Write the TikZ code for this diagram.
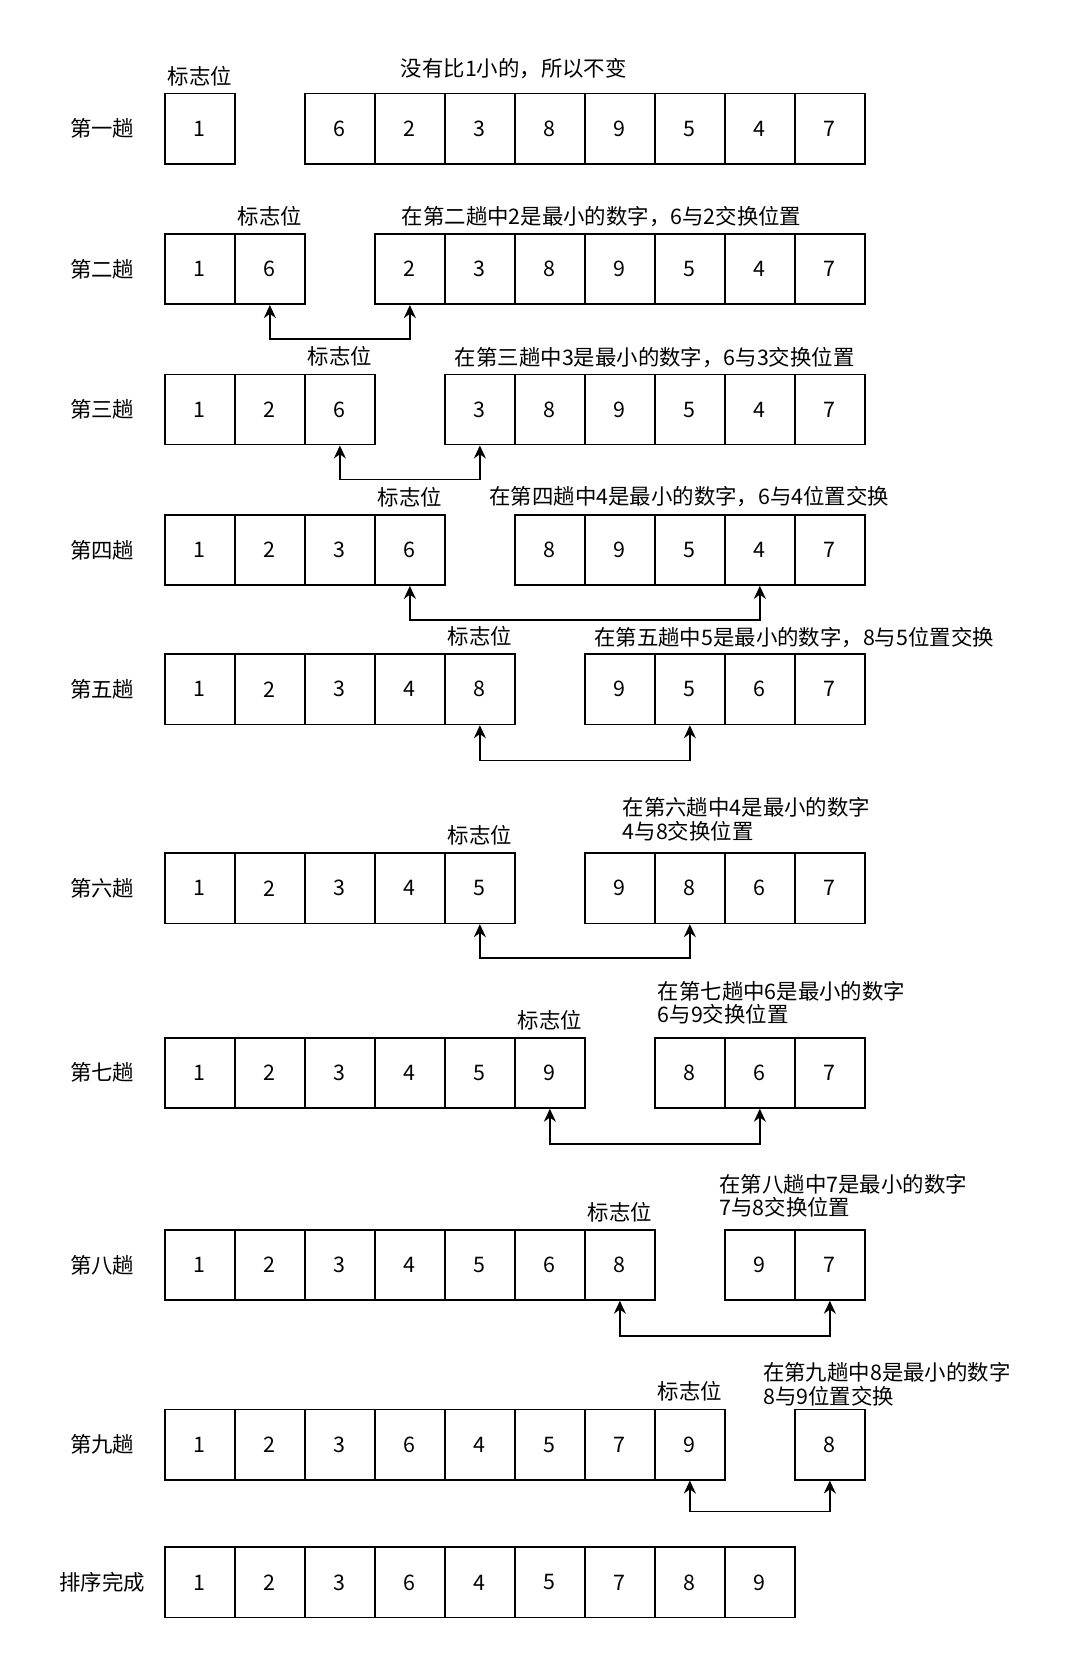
\documentclass[tikz,border=0pt]{standalone}
\usepackage{fontspec}
\setmainfont{Noto Sans CJK SC}
\usetikzlibrary{arrows.meta}

\begin{document}
\begin{tikzpicture}[x=0.5317pt,y=-0.5317pt,
  cell/.style={draw=black,line width=0.8pt,minimum width=35pt,minimum height=35.1pt,inner sep=0pt,font=\fontsize{10.7}{13}\selectfont},
  flag/.style={inner sep=0pt,font=\fontsize{10.7}{13}\selectfont},
  pass/.style={inner sep=0pt,font=\fontsize{10.7}{13}\selectfont},
  note/.style={inner sep=0pt,align=left,font=\fontsize{10.7}{11.8}\selectfont},
  swap/.style={{Stealth[length=6.5pt,width=6pt]}-{Stealth[length=6.5pt,width=6pt]},line width=0.8pt}]
\useasboundingbox (0,0) rectangle (1009,1568);

\node[pass] (p1) at (96,121) {第一趟};
\node[cell] (a1-0) at ({155+65.8*0.5},121) {1};
\foreach \v [count=\c from 2] in {6,2,3,8,9,5,4,7}
  \node[cell] (a1-\c) at ({155+65.8*(\c+0.5)},121) {\v};
\node[flag] (f1) at ([yshift=8.5pt]a1-0.north) {标志位};
\node[note] (n1) at (483,64) {没有比1小的，所以不变};

\node[pass] (p2) at (96,253) {第二趟};
\foreach \v [count=\c from 0] in {1,6}
  \node[cell] (a2-\c) at ({155+65.8*(\c+0.5)},253) {\v};
\foreach \v [count=\c from 3] in {2,3,8,9,5,4,7}
  \node[cell] (a2-\c) at ({155+65.8*(\c+0.5)},253) {\v};
\node[flag] (f2) at ([yshift=8.5pt]a2-1.north) {标志位};
\node[note] (n2) at (565.5,204) {在第二趟中2是最小的数字，6与2交换位置};
\draw[swap] (a2-1.south) -- ++(0,32) -| (a2-3.south);

\node[pass] (p3) at (96,385) {第三趟};
\foreach \v [count=\c from 0] in {1,2,6}
  \node[cell] (a3-\c) at ({155+65.8*(\c+0.5)},385) {\v};
\foreach \v [count=\c from 4] in {3,8,9,5,4,7}
  \node[cell] (a3-\c) at ({155+65.8*(\c+0.5)},385) {\v};
\node[flag] (f3) at ([yshift=8.5pt]a3-2.north) {标志位};
\node[note] (n3) at (615.5,336) {在第三趟中3是最小的数字，6与3交换位置};
\draw[swap] (a3-2.south) -- ++(0,32) -| (a3-4.south);

\node[pass] (p4) at (96,517) {第四趟};
\foreach \v [count=\c from 0] in {1,2,3,6}
  \node[cell] (a4-\c) at ({155+65.8*(\c+0.5)},517) {\v};
\foreach \v [count=\c from 5] in {8,9,5,4,7}
  \node[cell] (a4-\c) at ({155+65.8*(\c+0.5)},517) {\v};
\node[flag] (f4) at ([yshift=8.5pt]a4-3.north) {标志位};
\node[note] (n4) at (648,467) {在第四趟中4是最小的数字，6与4位置交换};
\draw[swap] (a4-3.south) -- ++(0,32) -| (a4-8.south);

\node[pass] (p5) at (96,648) {第五趟};
\foreach \v [count=\c from 0] in {1,2,3,4,8}
  \node[cell] (a5-\c) at ({155+65.8*(\c+0.5)},648) {\v};
\foreach \v [count=\c from 6] in {9,5,6,7}
  \node[cell] (a5-\c) at ({155+65.8*(\c+0.5)},648) {\v};
\node[flag] (f5) at ([yshift=8.5pt]a5-4.north) {标志位};
\node[note] (n5) at (746.5,599) {在第五趟中5是最小的数字，8与5位置交换};
\draw[swap] (a5-4.south) -- ++(0,33) -| (a5-7.south);

\node[pass] (p6) at (96,835) {第六趟};
\foreach \v [count=\c from 0] in {1,2,3,4,5}
  \node[cell] (a6-\c) at ({155+65.8*(\c+0.5)},835) {\v};
\foreach \v [count=\c from 6] in {9,8,6,7}
  \node[cell] (a6-\c) at ({155+65.8*(\c+0.5)},835) {\v};
\node[flag] (f6) at ([yshift=8.5pt]a6-4.north) {标志位};
\node[note,anchor=west] (n6) at (585,770) {在第六趟中4是最小的数字\\4与8交换位置};
\draw[swap] (a6-4.south) -- ++(0,32) -| (a6-7.south);

\node[pass] (p7) at (96,1008.5) {第七趟};
\foreach \v [count=\c from 0] in {1,2,3,4,5,9}
  \node[cell] (a7-\c) at ({155+65.8*(\c+0.5)},1008.5) {\v};
\foreach \v [count=\c from 7] in {8,6,7}
  \node[cell] (a7-\c) at ({155+65.8*(\c+0.5)},1008.5) {\v};
\node[flag] (f7) at ([yshift=8.5pt]a7-5.north) {标志位};
\node[note,anchor=west] (n7) at (618,942.5) {在第七趟中6是最小的数字\\6与9交换位置};
\draw[swap] (a7-5.south) -- ++(0,33) -| (a7-8.south);

\node[pass] (p8) at (96,1189) {第八趟};
\foreach \v [count=\c from 0] in {1,2,3,4,5,6,8}
  \node[cell] (a8-\c) at ({155+65.8*(\c+0.5)},1189) {\v};
\foreach \v [count=\c from 8] in {9,7}
  \node[cell] (a8-\c) at ({155+65.8*(\c+0.5)},1189) {\v};
\node[flag] (f8) at ([yshift=8.5pt]a8-6.north) {标志位};
\node[note,anchor=west] (n8) at (676,1124) {在第八趟中7是最小的数字\\7与8交换位置};
\draw[swap] (a8-6.south) -- ++(0,33) -| (a8-9.south);

\node[pass] (p9) at (96,1358) {第九趟};
\foreach \v [count=\c from 0] in {1,2,3,6,4,5,7,9}
  \node[cell] (a9-\c) at ({155+65.8*(\c+0.5)},1358) {\v};
\node[cell] (a9-9) at ({155+65.8*9.5},1358) {8};
\node[flag] (f9) at ([yshift=8.5pt]a9-7.north) {标志位};
\node[note,anchor=west] (n9) at (717,1301.5) {在第九趟中8是最小的数字\\8与9位置交换};
\draw[swap] (a9-7.south) -- ++(0,29) -| (a9-9.south);

\node[pass] (p10) at (96,1487.5) {排序完成};
\foreach \v [count=\c from 0] in {1,2,3,6,4,5,7,8,9}
  \node[cell] (a10-\c) at ({155+65.8*(\c+0.5)},1487.5) {\v};
\end{tikzpicture}
\end{document}
